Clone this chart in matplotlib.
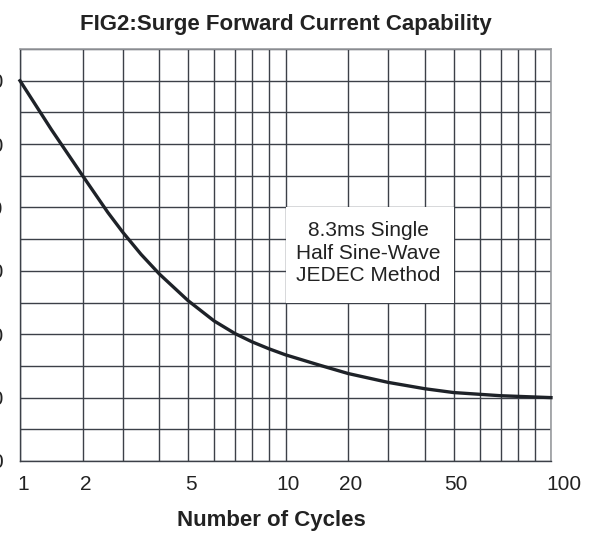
import numpy as np
import matplotlib.pyplot as plt
from matplotlib import transforms

plt.rcParams['font.family'] = ['Liberation Sans', 'DejaVu Sans']

# gridline positions of the chart paper (not a true log scale), one decade = 1.0
grid_x = [1, 2, 3, 4, 5, 6, 7, 8, 9, 10, 20, 30, 40, 50, 60, 70, 80, 90, 100]
decade_pos = [0.0, 0.236, 0.387, 0.525, 0.633, 0.731, 0.810, 0.874, 0.938]

x_ticks = [1, 2, 5, 10, 20, 50, 100]
y_ticks = [0, 10, 20, 30, 40, 50, 60]

cycles = [1, 1.5, 2, 2.63, 3, 3.5, 4, 5, 6, 7, 8, 9, 10, 15.5, 20, 30, 40, 50, 70, 100]
current = [60, 52.3, 45.0, 39.2, 36.1, 32.6, 29.5, 25.3, 22.1, 20.1, 18.8, 17.7, 16.75,
           15.1, 13.8, 12.4, 11.4, 10.8, 10.3, 10.0]

note = "8.3ms Single\nHalf Sine-Wave\nJEDEC Method"

knot_pos = decade_pos + [1 + p for p in decade_pos] + [2.0]
knot_x = np.array(grid_x, dtype=float)
knot_pos = np.array(knot_pos)


def fwd(v):
    return np.interp(v, knot_x, knot_pos)


def inv(p):
    return np.interp(p, knot_pos, knot_x)


def main():
    fig = plt.figure(figsize=(5.92, 5.33), dpi=100)
    ax = fig.add_axes([20 / 592, 1 - 461 / 533, 531 / 592, 412 / 533])
    ax.set_xscale('function', functions=(fwd, inv))
    ax.set_xlim(1, 100)
    ax.set_ylim(0, 65)

    ax.set_xticks(x_ticks)
    ax.set_xticklabels([str(t) for t in x_ticks])
    ax.set_xticks(grid_x, minor=True)
    ax.set_yticks(y_ticks)
    ax.set_yticklabels([str(t) for t in y_ticks])
    ax.set_yticks(np.arange(0, 66, 5), minor=True)

    ax.grid(True, which='both', color='#3c4048', lw=1.0)
    ax.set_axisbelow(True)
    ax.tick_params(which='both', length=0)
    ax.tick_params(axis='x', pad=10, labelsize=15, colors='#222222')
    ax.tick_params(axis='y', pad=12, labelsize=15, colors='#222222')

    for s in ['top', 'right']:
        ax.spines[s].set_color('#9a9ca0')
        ax.spines[s].set_linewidth(1.2)
    for s in ['left', 'bottom']:
        ax.spines[s].set_color('#3c4048')
        ax.spines[s].set_linewidth(1.0)

    # labels sit a little right of their gridlines, "100" more so
    labs = ax.get_xticklabels()
    for i, lab in enumerate(labs):
        dx = 9 if i == len(labs) - 1 else 2
        off = transforms.ScaledTranslation(dx / 72, 0, fig.dpi_scale_trans)
        lab.set_transform(lab.get_transform() + off)

    # white panel for the note
    ax.fill_between([10, 50], 25, 40, color='white', zorder=1.5, lw=0)
    ax.text(25, 32.8, note, ha='center', va='center',
            fontsize=15, color='#222222', linespacing=1.22, zorder=3)

    ax.plot(cycles, current, color='#1e2228', lw=2.4, zorder=4, clip_on=False,
            solid_joinstyle='round')

    ax.set_title('FIG2:Surge Forward Current Capability', fontsize=16,
                 fontweight='bold', color='#222222', pad=14)
    ax.set_xlabel('Number of Cycles', fontsize=16, fontweight='bold',
                  color='#222222')
    ax.xaxis.set_label_coords(0.473, -0.118)

    fig.savefig('out.png', dpi=100)


if __name__ == '__main__':
    main()
